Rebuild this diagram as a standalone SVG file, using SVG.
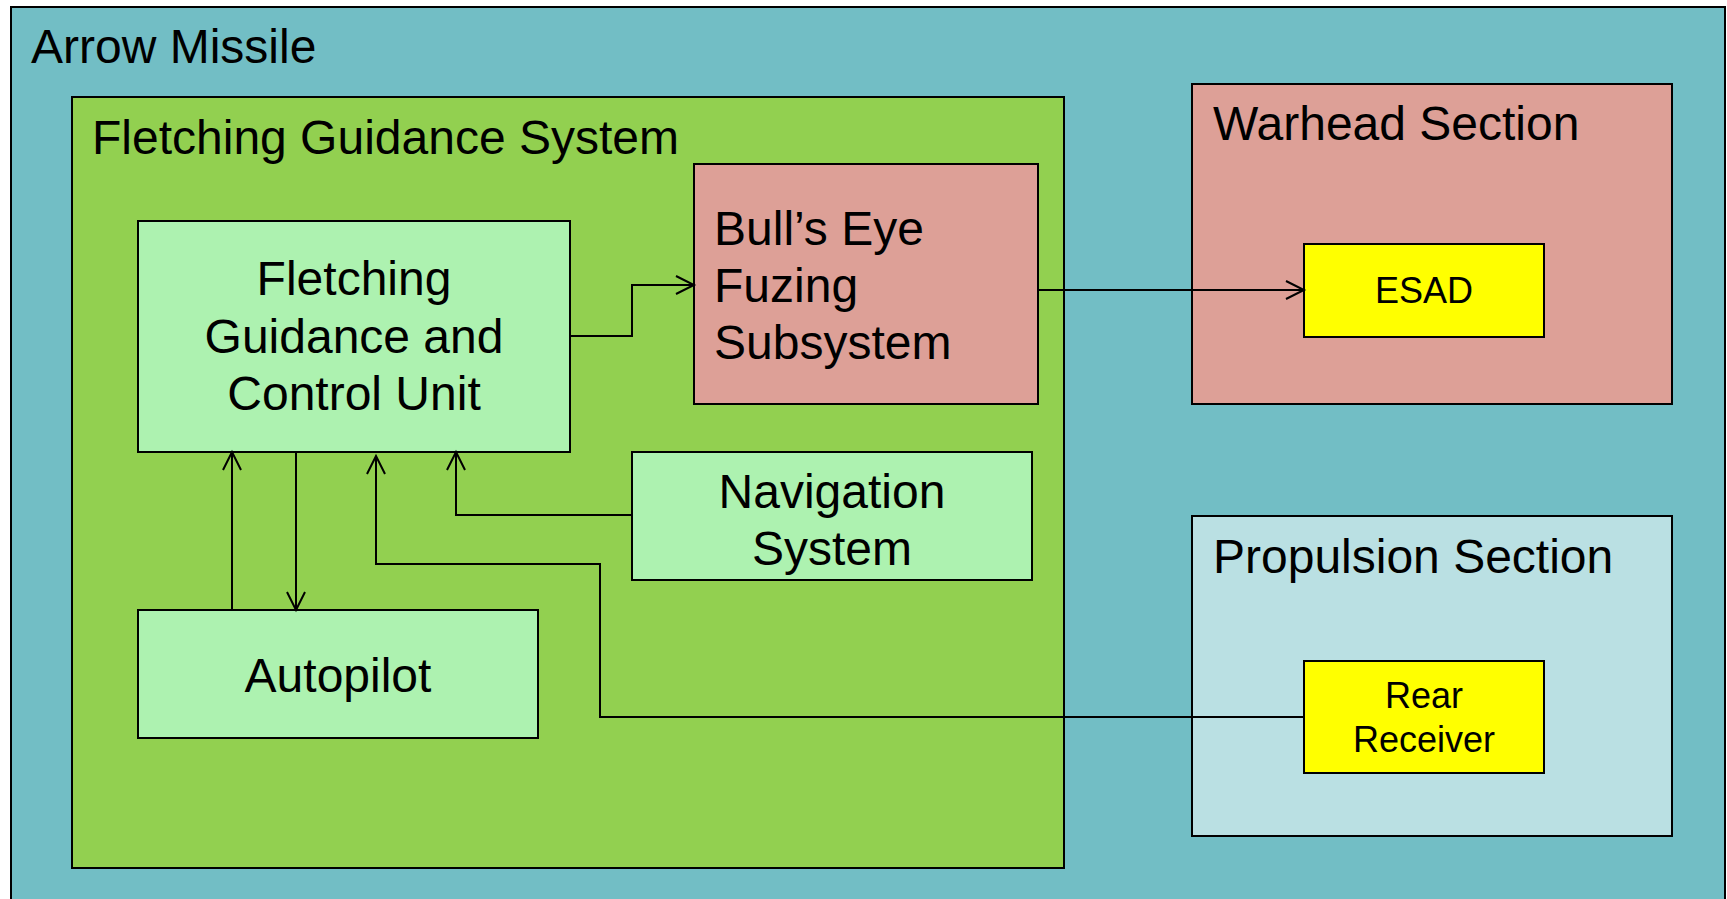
<svg xmlns="http://www.w3.org/2000/svg" width="1727" height="899" viewBox="0 0 1727 899">
<style>
.box{stroke:#000;stroke-width:2}
.t{font-family:"Liberation Sans",Arial,sans-serif;fill:#000}
.big{font-size:48px}
.small{font-size:36px}
.c{text-anchor:middle}
.conn{fill:none;stroke:#000;stroke-width:2}
</style>
<defs>
<marker id="arr" viewBox="-2 -2 24 24" refX="19" refY="10" markerWidth="24" markerHeight="24" markerUnits="userSpaceOnUse" orient="auto">
<path d="M1,1 L19,10 L1,19" fill="none" stroke="#000" stroke-width="2"/>
</marker>
</defs>
<g id="arrow-missile">
<rect class="box" x="11" y="7" width="1714" height="900" fill="#72BEC5"/>
<text class="t big" x="31" y="63">Arrow Missile</text>
</g>
<g id="fletching-guidance-system">
<rect class="box" x="72" y="97" width="992" height="771" fill="#92D050"/>
<text class="t big" x="92" y="154">Fletching Guidance System</text>
</g>
<g id="warhead-section">
<rect class="box" x="1192" y="84" width="480" height="320" fill="#DDA097"/>
<text class="t big" x="1213" y="140">Warhead Section</text>
</g>
<g id="propulsion-section">
<rect class="box" x="1192" y="516" width="480" height="320" fill="#BAE0E3"/>
<text class="t big" x="1213" y="573">Propulsion Section</text>
</g>
<g id="fgcu">
<rect class="box" x="138" y="221" width="432" height="231" fill="#ADF2B0"/>
<text class="t big c" x="354" y="295">Fletching</text>
<text class="t big c" x="354" y="353">Guidance and</text>
<text class="t big c" x="354" y="410">Control Unit</text>
</g>
<g id="bulls-eye">
<rect class="box" x="694" y="164" width="344" height="240" fill="#DDA097"/>
<text class="t big" x="714" y="245">Bull’s Eye</text>
<text class="t big" x="714" y="302">Fuzing</text>
<text class="t big" x="714" y="359">Subsystem</text>
</g>
<g id="navigation">
<rect class="box" x="632" y="452" width="400" height="128" fill="#ADF2B0"/>
<text class="t big c" x="832" y="508">Navigation</text>
<text class="t big c" x="832" y="565">System</text>
</g>
<g id="autopilot">
<rect class="box" x="138" y="610" width="400" height="128" fill="#ADF2B0"/>
<text class="t big c" x="338" y="692">Autopilot</text>
</g>
<g id="esad">
<rect class="box" x="1304" y="244" width="240" height="93" fill="#FFFF00"/>
<text class="t small c" x="1424" y="303">ESAD</text>
</g>
<g id="rear-receiver">
<rect class="box" x="1304" y="661" width="240" height="112" fill="#FFFF00"/>
<text class="t small c" x="1424" y="708">Rear</text>
<text class="t small c" x="1424" y="752">Receiver</text>
</g>
<g id="connectors">
<path class="conn" d="M570,336 H632 V285 H694" marker-end="url(#arr)"/>
<path class="conn" d="M1038,290 H1304" marker-end="url(#arr)"/>
<path class="conn" d="M632,515 H456 V452" marker-end="url(#arr)"/>
<path class="conn" d="M232,610 V452" marker-end="url(#arr)"/>
<path class="conn" d="M296,452 V610" marker-end="url(#arr)"/>
<path class="conn" d="M1304,717 H600 V564 H376 V456" marker-end="url(#arr)" stroke-width="1.6"/>
</g>
</svg>
